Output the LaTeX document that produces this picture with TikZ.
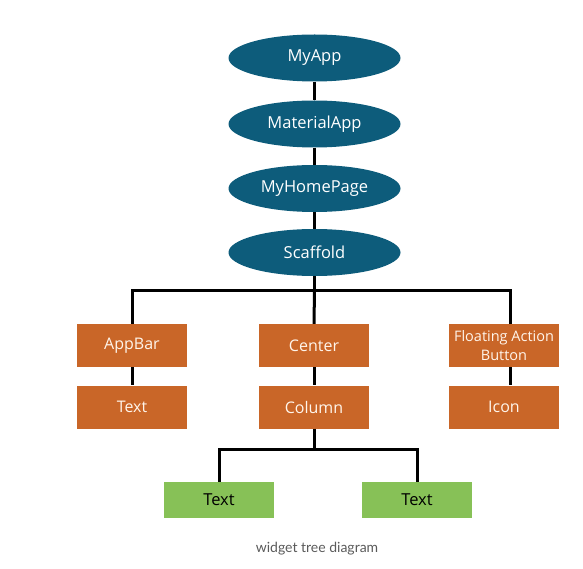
\documentclass[tikz,border=0pt]{standalone}
\usepackage{fontspec}
\setmainfont{Open Sans}
\newfontfamily\capfont{Lato}
\usetikzlibrary{shapes.geometric}
\definecolor{teal}{HTML}{0D5C7B}
\definecolor{orng}{HTML}{C96628}
\definecolor{grn}{HTML}{87C157}
\definecolor{capgray}{HTML}{5A5A5A}
\tikzset{
  ell/.style={ellipse, fill=teal, text=white, minimum width=172pt, minimum height=47pt, inner sep=0pt, font=\fontsize{16.5}{19}\selectfont},
  obox/.style={rectangle, fill=orng, text=white!92!orange, minimum width=110pt, minimum height=43pt, inner sep=0pt, align=center, font=\fontsize{16}{19}\selectfont},
  gbox/.style={rectangle, fill=grn, text=black, minimum width=110pt, minimum height=36pt, inner sep=0pt, font=\fontsize{16.5}{19}\selectfont},
  link/.style={line width=3pt, black},
}
\begin{document}
\begin{tikzpicture}[x=1pt,y=-1pt]
\useasboundingbox (0,0) rectangle (583,569);
\node[ell] (myapp) at (314.5,58) {MyApp};
\node[ell] (material) at (314.5,124) {MaterialApp};
\node[ell] (home) at (314.5,188.5) {MyHomePage};
\node[ell] (scaffold) at (314.5,252.5) {Scaffold};
\node[obox] (appbar) at (132,345.5) {AppBar};
\node[obox] (center) at (314,345.5) {Center};
\node[obox, font=\fontsize{14.5}{19}\selectfont] (fab) at (504,345.5) {Floating Action\\Button};
\node[obox] (text1) at (132,407) {Text};
\node[obox] (column) at (314,407) {Column};
\node[obox] (icon) at (504,407) {Icon};
\node[gbox] (text2) at (219,500) {Text};
\node[gbox] (text3) at (417,500) {Text};
\node[text=capgray, font=\capfont\fontsize{14}{16}\selectfont] (cap) at (317,549) {widget tree diagram};
\coordinate (bus) at (314.5,290);
\coordinate (busr) at (510,290);
\coordinate (bus2) at (314,449);
\draw[link] (myapp) -- (material);
\draw[link] (material) -- (home);
\draw[link] (home) -- (scaffold);
\draw[link] (scaffold.south) -- (bus);
\draw[link] (appbar.north) |- (busr) -- (fab.north -| busr);
\draw[link] (bus) -- (center.north);
\draw[link] (appbar) -- (text1);
\draw[link] (center) -- (column);
\draw[link] (fab.south -| busr) -- (icon.north -| busr);
\draw[link] (column.south) -- (bus2);
\draw[link] (text2.north) |- (bus2) -| (text3.north);
\end{tikzpicture}
\end{document}
